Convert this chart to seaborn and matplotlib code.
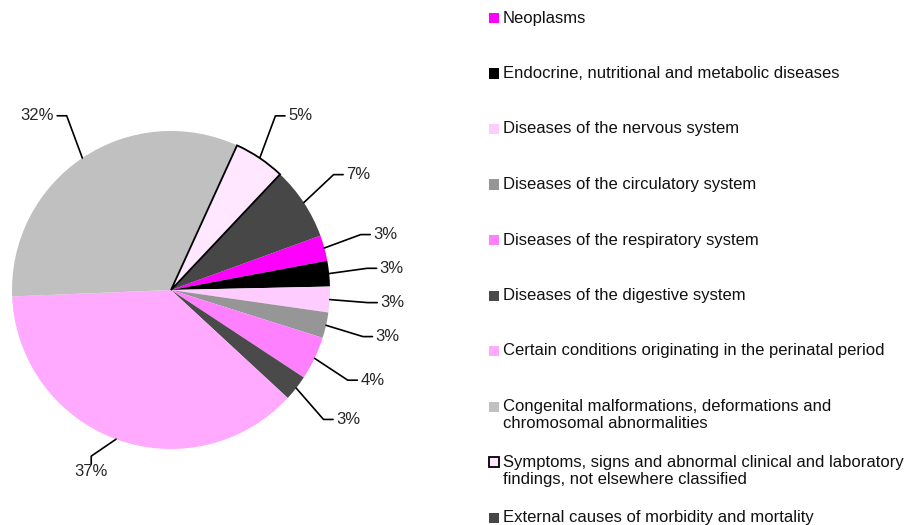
import numpy as np
import matplotlib.pyplot as plt
from matplotlib.patches import Rectangle
import seaborn as sns

sns.set_theme(style="white")
plt.rcParams['font.family'] = ['Liberation Sans', 'DejaVu Sans']

# causes of death (share of total, %)
causes = [
    "Neoplasms",
    "Endocrine, nutritional and metabolic diseases",
    "Diseases of the nervous system",
    "Diseases of the circulatory system",
    "Diseases of the respiratory system",
    "Diseases of the digestive system",
    "Certain conditions originating in the perinatal period",
    "Congenital malformations, deformations and\nchromosomal abnormalities",
    "Symptoms, signs and abnormal clinical and laboratory\nfindings, not elsewhere classified",
    "External causes of morbidity and mortality",
]
shares = [2.6, 2.6, 2.6, 2.6, 4.4, 2.6, 37.4, 32.4, 5.2, 7.4]
colors = ['#FF00FF', '#000000', '#FFCCFF', '#969696', '#FF80FF',
          '#4A4A4A', '#FFAAFF', '#C0C0C0', '#FFE8FF', '#474747']

FS = 12
fig = plt.figure(figsize=(9.11, 5.25), dpi=100)
R = 159  # pie radius in pixels
ax = fig.add_axes([0, 0, 400 / 911, 1])
wedges, _ = ax.pie(shares, colors=colors, startangle=20, counterclock=False,
                   radius=1, wedgeprops=dict(linewidth=0))
wedges[8].set_edgecolor('black')
wedges[8].set_linewidth(1.3)
wedges[8].set_zorder(5)
ax.set_xlim(-171 / R, 229 / R)
ax.set_ylim(-235 / R, 290 / R)
ax.set_aspect('auto')
ax.axis('off')

# percentage labels with elbow leader lines
total = sum(shares)
for w, v in zip(wedges, shares):
    mid = np.deg2rad((w.theta1 + w.theta2) / 2)
    c, s = np.cos(mid), np.sin(mid)
    txt = f"{v / total * 100:.0f}%"
    if abs(s) > 0.9:
        tx, ty = 1.22 * c - 0.08, 1.22 * s
        ax.plot([c, tx, tx], [s, ty + 0.1, ty + 0.05], color='black', lw=1.2)
        ax.text(tx, ty + 0.05, txt, ha='center', va='top', fontsize=FS)
    else:
        sg = 1 if c > 0 else -1
        tx, ty = 1.32 * c, 1.32 * s
        ax.plot([c, tx - sg * 0.08, tx - sg * 0.02], [s, ty, ty],
                color='black', lw=1.2)
        ax.text(tx, ty, txt, ha='left' if sg > 0 else 'right',
                va='center', fontsize=FS)

# legend on the right
for i, (name, col) in enumerate(zip(causes, colors)):
    yc = 18 + 55.5 * i
    edge = 'black' if i == 8 else col
    fig.patches.append(Rectangle((489 / 911, 1 - (yc + 5) / 525),
                                 10 / 911, 10 / 525, facecolor=col,
                                 edgecolor=edge, lw=1.3 if i == 8 else 0,
                                 transform=fig.transFigure))
    fig.text(503 / 911, 1 - (yc - 7.5) / 525, name, ha='left', va='top',
             fontsize=FS, color='#111111', linespacing=1.2)

fig.savefig('out.png', dpi=100)
